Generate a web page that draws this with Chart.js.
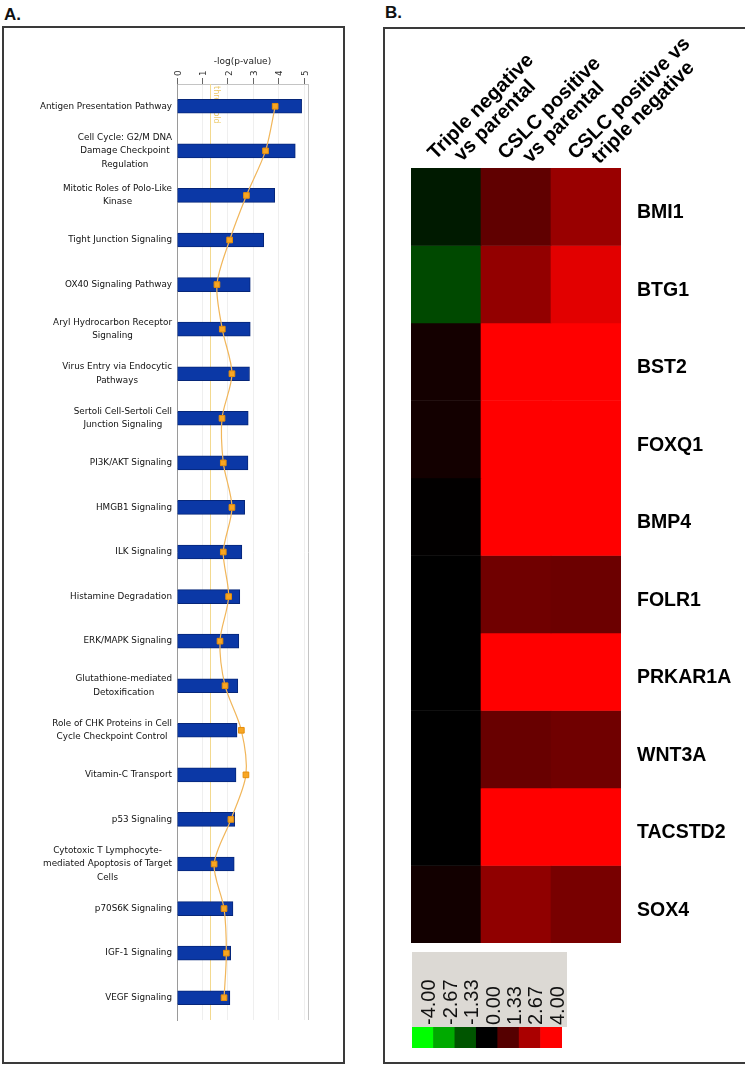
<!DOCTYPE html>
<html>
<head>
<meta charset="utf-8">
<script src="https://cdn.jsdelivr.net/npm/chart.js@4.4.1/dist/chart.umd.min.js"></script>
<style>
  body { margin: 0; width: 745px; height: 1066px; overflow: hidden; position: relative; background: #fff; font-family: "Liberation Sans", Arial, sans-serif; }
  .tag { position: absolute; font-weight: bold; font-size: 17px; line-height: 1; color: #111; }
  .box { position: absolute; border: 2px solid #3a3a3a; box-sizing: border-box; }
  canvas { position: absolute; }
</style>
</head>
<body>
<div class="tag" style="left:4px;top:6px">A.</div>
<div class="box" style="left:2px;top:26px;width:343px;height:1038px"></div>
<div class="tag" style="left:385px;top:4px">B.</div>
<div class="box" style="left:383px;top:27px;width:380px;height:1037px"></div>
<div style="position:absolute;left:412px;top:952px;width:155px;height:75px;background:#dcd9d4"></div>

<canvas id="pathways" width="372" height="1066" style="left:0;top:0"></canvas>
<canvas id="heatmap" width="373" height="1066" style="left:372px;top:0"></canvas>
<canvas id="colorKey" width="155" height="96" style="left:412px;top:952px"></canvas>

<script>
// ---- panel A: canonical pathways ----
const pathways = [
  ['Antigen Presentation Pathway'],
  ['Cell Cycle: G2/M DNA', 'Damage Checkpoint', 'Regulation'],
  ['Mitotic Roles of Polo-Like', 'Kinase'],
  ['Tight Junction Signaling'],
  ['OX40 Signaling Pathway'],
  ['Aryl Hydrocarbon Receptor', 'Signaling'],
  ['Virus Entry via Endocytic', 'Pathways'],
  ['Sertoli Cell-Sertoli Cell', 'Junction Signaling'],
  ['PI3K/AKT Signaling'],
  ['HMGB1 Signaling'],
  ['ILK Signaling'],
  ['Histamine Degradation'],
  ['ERK/MAPK Signaling'],
  ['Glutathione-mediated', 'Detoxification'],
  ['Role of CHK Proteins in Cell', 'Cycle Checkpoint Control'],
  ['Vitamin-C Transport'],
  ['p53 Signaling'],
  ['Cytotoxic T Lymphocyte-', 'mediated Apoptosis of Target', 'Cells'],
  ['p70S6K Signaling'],
  ['IGF-1 Signaling'],
  ['VEGF Signaling']
];
const negLogP = [4.9, 4.65, 3.84, 3.41, 2.88, 2.88, 2.85, 2.8, 2.79, 2.66, 2.55,
                 2.47, 2.43, 2.39, 2.36, 2.32, 2.27, 2.25, 2.2, 2.11, 2.08];
const ratioLine = [3.86, 3.48, 2.73, 2.07, 1.57, 1.78, 2.16, 1.77, 1.82, 2.16, 1.82,
                   2.03, 1.69, 1.89, 2.53, 2.71, 2.12, 1.46, 1.85, 1.94, 1.85];
const pAxisTicks = [0, 1, 2, 3, 4, 5];
const pAxisMax = 5.15;
const threshold = 1.3;

// ---- panel B: heatmap ----
const comparisons = [
  ['Triple negative', 'vs parental'],
  ['CSLC positive', 'vs parental'],
  ['CSLC positive vs', 'triple negative']
];
const genes = ['BMI1', 'BTG1', 'BST2', 'FOXQ1', 'BMP4', 'FOLR1', 'PRKAR1A', 'WNT3A', 'TACSTD2', 'SOX4'];
const tripleNegVsParental = [-0.4, -1.15, 0.31, 0.3, 0.03, 0, 0, 0, 0, 0.28];
const cslcVsParental      = [1.5, 2.3, 4, 4, 4, 1.75, 4, 1.63, 4, 2.26];
const cslcVsTripleNeg     = [2.4, 3.55, 4, 4, 4, 1.7, 4, 1.76, 4, 1.88];
const keyLabels = ['-4.00', '-2.67', '-1.33', '0.00', '1.33', '2.67', '4.00'];
const keyValues = [-4, -2.67, -1.33, 0, 1.33, 2.67, 4];
const keyCells  = [1, 1, 1, 1, 1, 1, 1];

function expressionColor(v) {
  const c = Math.round(Math.min(Math.abs(v), 4) / 4 * 255);
  return v >= 0 ? `rgb(${c},0,0)` : `rgb(0,${c},0)`;
}

// rotated top-axis labels: keep the chart area where the layout padding puts it
function noEdgePadding(s) {
  s.paddingLeft = 0;
  s.paddingRight = 0;
}

const smallFont = { family: 'DejaVu Sans', size: 8.8 };

const pathLabels = {
  id: 'pathLabels',
  afterDraw(chart) {
    const { ctx, chartArea, scales: { y } } = chart;
    ctx.save();
    ctx.font = '8.8px "DejaVu Sans"';
    ctx.fillStyle = '#111';
    ctx.textAlign = 'center';
    ctx.textBaseline = 'middle';
    const right = chartArea.left - 5;
    const lh = 13.5;
    pathways.forEach((lines, i) => {
      const cy = y.getPixelForValue(i);
      const w = Math.max(...lines.map(l => ctx.measureText(l).width));
      lines.forEach((l, j) => ctx.fillText(l, right - w / 2, cy + (j - (lines.length - 1) / 2) * lh));
    });
    ctx.restore();
  }
};

const thresholdLine = {
  id: 'thresholdLine',
  beforeDatasetsDraw(chart) {
    const { ctx, chartArea, scales: { x } } = chart;
    const px = Math.round(x.getPixelForValue(threshold)) + 0.5;
    ctx.save();
    ctx.strokeStyle = '#f3d98f';
    ctx.lineWidth = 1;
    ctx.beginPath();
    ctx.moveTo(px, chartArea.top);
    ctx.lineTo(px, chartArea.bottom);
    ctx.stroke();
    ctx.translate(px + 6, chartArea.top + 2);
    ctx.rotate(Math.PI / 2);
    ctx.font = '8px "DejaVu Sans"';
    ctx.fillStyle = '#ecc866';
    ctx.textBaseline = 'middle';
    ctx.fillText('threshold', 0, 0);
    ctx.restore();
  }
};

new Chart(document.getElementById('pathways'), {
  type: 'bar',
  data: {
    labels: pathways,
    datasets: [
      {
        type: 'line',
        indexAxis: 'y',
        data: ratioLine,
        borderColor: '#f1b65a',
        borderWidth: 1.2,
        tension: 0.3,
        pointStyle: 'rect',
        pointRadius: 4,
        pointBackgroundColor: '#f8a623',
        pointBorderColor: '#e68e0a',
        pointBorderWidth: 1,
        order: 0
      },
      {
        data: negLogP,
        backgroundColor: '#0b38a6',
        borderColor: '#062679',
        borderWidth: 1,
        barThickness: 14,
        order: 1
      }
    ]
  },
  options: {
    indexAxis: 'y',
    responsive: false,
    animation: false,
    layout: { padding: { left: 177, right: 64, top: 52, bottom: 46 } },
    plugins: { legend: { display: false }, tooltip: { enabled: false } },
    scales: {
      x: {
        position: 'top',
        min: 0,
        max: pAxisMax,
        afterBuildTicks: s => { s.ticks = pAxisTicks.concat([pAxisMax]).map(v => ({ value: v })); },
        afterFit: s => { s.height = 32; noEdgePadding(s); },
        ticks: {
          minRotation: 90, maxRotation: 90, padding: 2, labelOffset: 12, color: '#333', font: smallFont,
          callback: v => (pAxisTicks.includes(v) ? String(v) : '')
        },
        grid: {
          color: c => (c.tick && c.tick.value === pAxisMax ? '#c4c4c4' : '#efefef'),
          tickColor: c => (c.tick && c.tick.value === pAxisMax ? 'rgba(0,0,0,0)' : '#666'),
          tickLength: 6
        },
        border: { color: '#c4c4c4' },
        title: { display: true, text: '-log(p-value)', color: '#222', font: { family: 'DejaVu Sans', size: 9 }, padding: { top: 4, bottom: 2 } }
      },
      y: {
        ticks: { display: false },
        grid: { display: false },
        border: { color: '#9a9a9a' },
        afterFit: s => { s.width = 0; }
      }
    }
  },
  plugins: [thresholdLine, pathLabels]
});

const columnHeaders = {
  id: 'columnHeaders',
  afterDraw(chart) {
    const { ctx, chartArea, scales: { x } } = chart;
    ctx.save();
    ctx.font = 'bold 20px "Liberation Sans", Arial';
    ctx.fillStyle = '#000';
    ctx.textAlign = 'center';
    ctx.textBaseline = 'alphabetic';
    comparisons.forEach((lines, i) => {
      const w = Math.max(...lines.map(l => ctx.measureText(l).width));
      ctx.save();
      ctx.translate(x.getPixelForValue(i), chartArea.top);
      ctx.rotate(-Math.PI / 4);
      lines.forEach((l, j) => ctx.fillText(l, w / 2 - 2, 7 - (lines.length - 1 - j) * 20));
      ctx.restore();
    });
    ctx.restore();
  }
};

const columns = [tripleNegVsParental, cslcVsParental, cslcVsTripleNeg];

new Chart(document.getElementById('heatmap'), {
  type: 'bar',
  data: {
    labels: comparisons,
    datasets: genes.map((g, i) => ({
      label: g,
      data: columns.map(() => [i, i + 1]),
      backgroundColor: columns.map(col => expressionColor(col[i])),
      borderWidth: 0,
      grouped: false,
      categoryPercentage: 1,
      barPercentage: 1
    }))
  },
  options: {
    responsive: false,
    animation: false,
    layout: { padding: { left: 39, right: 0, top: 168, bottom: 123 } },
    plugins: { legend: { display: false }, tooltip: { enabled: false } },
    scales: {
      x: { display: false },
      y: { display: false, min: 0, max: 10, reverse: true },
      genes: {
        type: 'category',
        position: 'right',
        labels: genes,
        offset: true,
        afterFit: s => { s.width = 124; },
        grid: { display: false, drawTicks: false },
        border: { display: false },
        ticks: { autoSkip: false, padding: 16, labelOffset: 6, color: '#000', font: { family: 'Liberation Sans', size: 19.5, weight: 'bold' } }
      }
    }
  },
  plugins: [columnHeaders]
});

new Chart(document.getElementById('colorKey'), {
  type: 'bar',
  data: {
    labels: keyLabels,
    datasets: [{
      data: keyCells,
      backgroundColor: keyValues.map(expressionColor),
      borderWidth: 0,
      categoryPercentage: 1,
      barPercentage: 1
    }]
  },
  options: {
    responsive: false,
    animation: false,
    layout: { padding: { left: 0, right: 5, top: 0, bottom: 0 } },
    plugins: { legend: { display: false }, tooltip: { enabled: false } },
    scales: {
      x: {
        position: 'top',
        afterFit: s => { s.height = 75; noEdgePadding(s); },
        grid: { display: false, drawTicks: false },
        border: { display: false },
        ticks: { autoSkip: false, minRotation: 90, maxRotation: 90, padding: 2, labelOffset: 31, color: '#111', font: { family: 'Liberation Sans', size: 20 } }
      },
      y: { display: false, min: 0, max: 1 }
    }
  }
});
</script>
</body>
</html>
